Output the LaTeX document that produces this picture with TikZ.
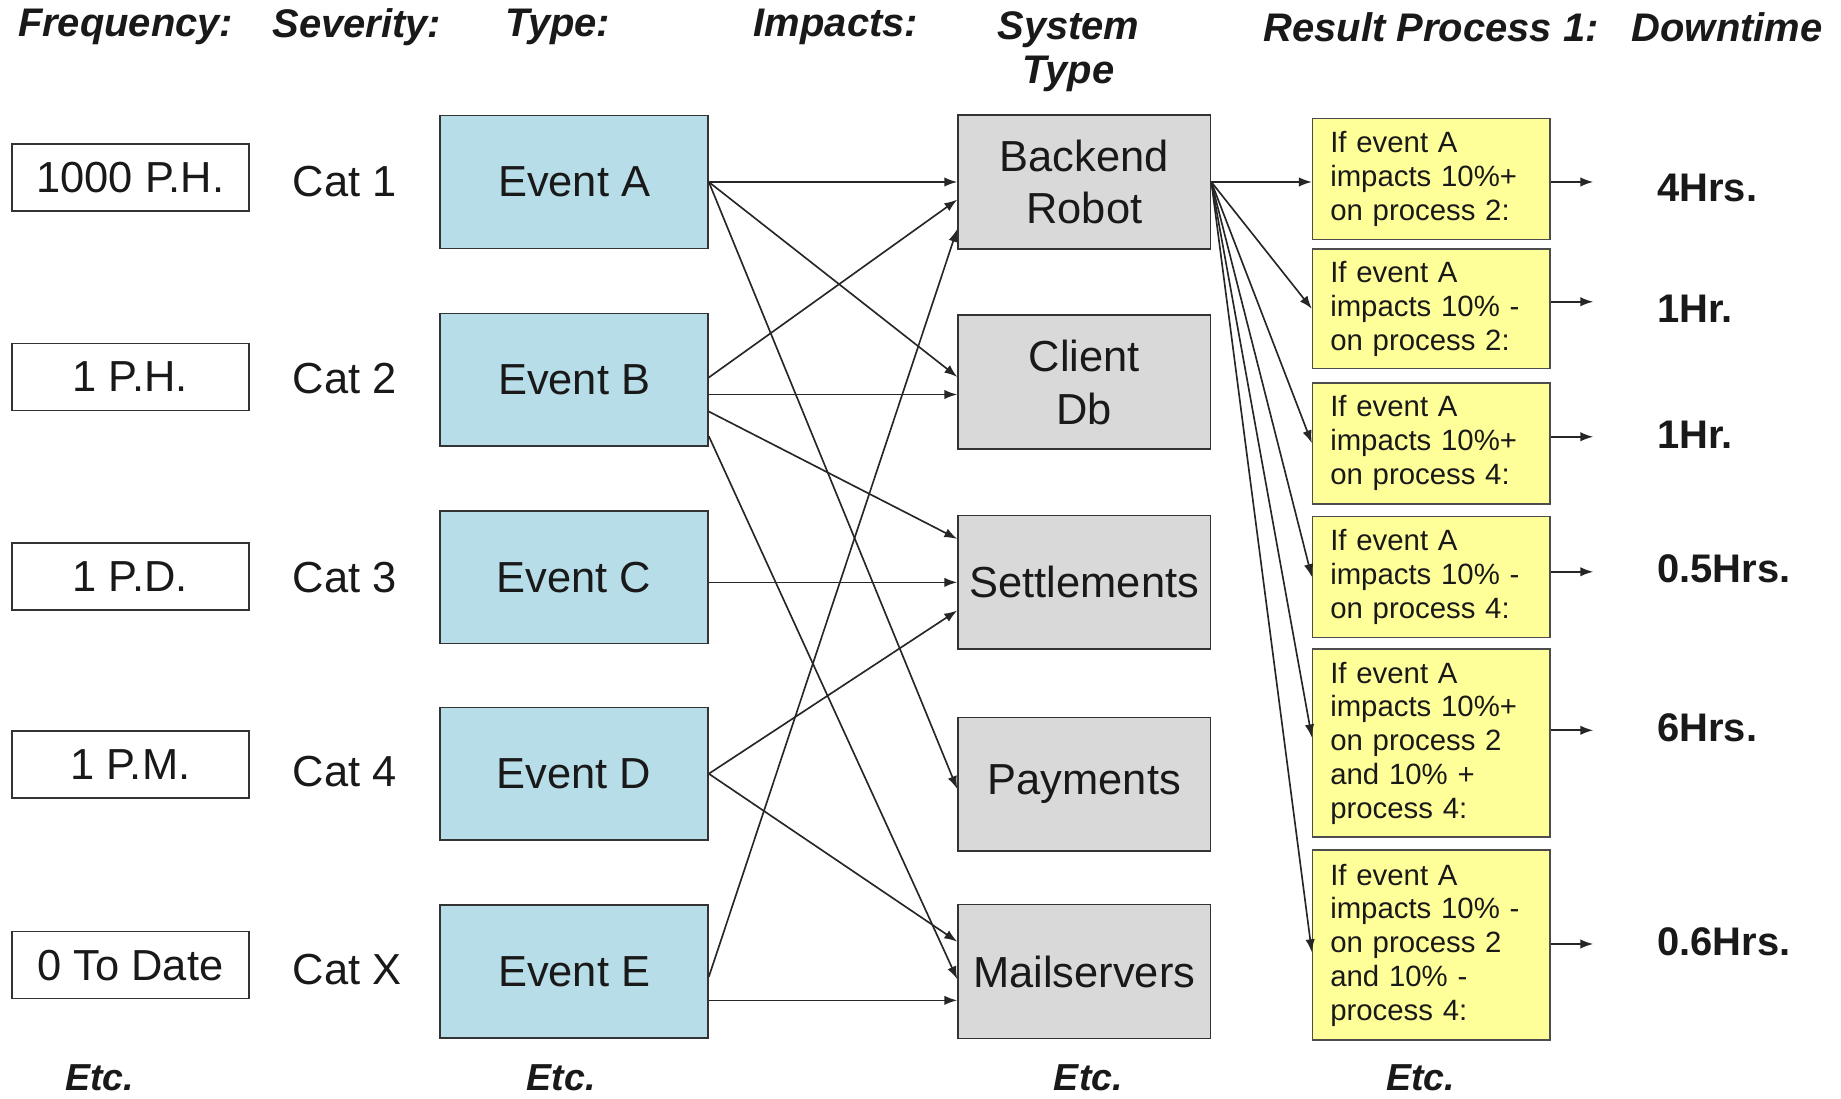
\documentclass[tikz,border=0pt]{standalone}
\usepackage{fontspec}
\setmainfont{Liberation Sans}
\usetikzlibrary{arrows.meta,calc}
\definecolor{evfill}{HTML}{B7DDE8}
\definecolor{sysfill}{HTML}{D9D9D9}
\definecolor{yfill}{HTML}{FFFF99}
\begin{document}
\begin{tikzpicture}[x=1pt,y=-1pt,
  every node/.style={text=black!90},
  box/.style={draw=black!80, line width=1.4pt},
  freqbox/.style={box, fill=white, minimum width=202pt, minimum height=57pt, inner sep=0pt, font=\fontsize{37}{40}\selectfont},
  evbox/.style={box, fill=evfill, minimum width=228pt, minimum height=113pt, inner sep=0pt, font=\fontsize{37}{44}\selectfont},
  sysbox/.style={box, fill=sysfill, minimum width=215pt, minimum height=114pt, align=center, inner sep=0pt, font=\fontsize{37}{45}\selectfont},
  ybox/.style={box, draw=black!70, fill=yfill, text width=172pt, inner xsep=15pt, inner ysep=0pt, align=left, font=\fontsize{25}{28.8}\selectfont},
  hdr/.style={font=\fontsize{34}{38}\selectfont\bfseries\itshape, align=center},
  etc/.style={font=\fontsize{32}{36}\selectfont\bfseries\itshape, anchor=base, inner sep=0pt},
  dtime/.style={anchor=west, font=\fontsize{34}{38}\selectfont\bfseries},
  cat/.style={anchor=west, font=\fontsize{37}{40}\selectfont},
  arr/.style={-{Latex[length=11pt,width=8pt]}, line width=1.4pt, draw=black!85}]
\useasboundingbox[fill=white] (0,0) rectangle (1568,936);

% headers
\node[hdr] (hFreq) at (107,23) {Frequency:};
\node[hdr] (hSev) at (304,23) {Severity:};
\node[hdr] (hType) at (475,23) {Type:};
\node[hdr] (hImp) at (712,23) {Impacts:};
\node[hdr] (hSys) at (910,44) {System\\Type};
\node[hdr] (hRes) at (1219,23) {Result Process 1:};
\node[hdr] (hDown) at (1471,23) {Downtime};

% footers
\node[etc] (etc1) at (85,929) {Etc.};
\node[etc] (etc2) at (478,929) {Etc.};
\node[etc] (etc3) at (927,929) {Etc.};
\node[etc] (etc4) at (1210,929) {Etc.};

% frequency
\node[freqbox] (f1) at (111,151) {1000 P.H.};
\node[freqbox] (f2) at (111,321) {1 P.H.};
\node[freqbox] (f3) at (111,491) {1 P.D.};
\node[freqbox] (f4) at (111,651) {1 P.M.};
\node[freqbox] (f5) at (111,822) {0 To Date};

% severity
\node[cat] (c1) at (246,155) {Cat 1};
\node[cat] (c2) at (246,322) {Cat 2};
\node[cat] (c3) at (246,492) {Cat 3};
\node[cat] (c4) at (246,657) {Cat 4};
\node[cat] (c5) at (246,826) {Cat X};

% events
\node[evbox] (evA) at (489,155) {Event A};
\node[evbox] (evB) at (489,323.5) {Event B};
\node[evbox] (evC) at (489,491.5) {Event C};
\node[evbox] (evD) at (489,659) {Event D};
\node[evbox] (evE) at (489,827.5) {Event E};

% systems
\node[sysbox] (sysBR) at (923.5,155) {Backend\\Robot};
\node[sysbox] (sysCD) at (923.5,325.5) {Client\\Db};
\node[sysbox] (sysSet) at (923.5,496) {Settlements};
\node[sysbox] (sysPay) at (923.5,668) {Payments};
\node[sysbox] (sysMail) at (923.5,827.5) {Mailservers};

% yellow result boxes
\node[ybox, minimum height=103pt] (y1) at (1219,152.5) {If event A\\impacts 10\%+\\on process 2:};
\node[ybox, minimum height=102pt] (y2) at (1219,263) {If event A\\impacts 10\% -\\on process 2:};
\node[ybox, minimum height=103pt] (y3) at (1219,377.5) {If event A\\impacts 10\%+\\on process 4:};
\node[ybox, minimum height=103pt] (y4) at (1219,491.5) {If event A\\impacts 10\% -\\on process 4:};
\node[ybox, minimum height=160pt] (y5) at (1219,633) {If event A\\impacts 10\%+\\on process 2\\and 10\% +\\process 4:};
\node[ybox, minimum height=162pt] (y6) at (1219,805) {If event A\\impacts 10\% -\\on process 2\\and 10\% -\\process 4:};

% downtime values
\node[dtime] (dt1) at (1408,160) {4Hrs.};
\node[dtime] (dt2) at (1408,263) {1Hr.};
\node[dtime] (dt3) at (1408,370) {1Hr.};
\node[dtime] (dt4) at (1408,484) {0.5Hrs.};
\node[dtime] (dt5) at (1408,620) {6Hrs.};
\node[dtime] (dt6) at (1408,802) {0.6Hrs.};

\coordinate (t1) at (1357,155);
\coordinate (t2) at (1357,257);
\coordinate (t3) at (1357,372);
\coordinate (t4) at (1357,487);
\coordinate (t5) at (1357,622);
\coordinate (t6) at (1357,804);

% event -> system connectors
\draw[arr] (evA.east) -- (sysBR.west);
\draw[arr] (evA.east) -- ([yshift=4.5pt]sysCD.west);
\draw[arr] (evA.east) -- ([yshift=-4pt]sysPay.west);
\draw[arr] ([yshift=2pt]evB.east) -- ([yshift=-15pt]sysBR.west);
\draw[arr] ([yshift=-12.5pt]evB.east) -- ([yshift=-10.5pt]sysCD.west);
\draw[arr] ([yshift=-27pt]evB.east) -- ([yshift=37pt]sysSet.west);
\draw[arr] ([yshift=-48pt]evB.east) -- ([yshift=-6.5pt]sysMail.west);
\draw[arr] ([yshift=-4.5pt]evC.east) -- (sysSet.west);
\draw[arr] (evD.east) -- ([yshift=-24pt]sysSet.west);
\draw[arr] (evD.east) -- ([yshift=25.5pt]sysMail.west);
\draw[arr] ([yshift=-4.5pt]evE.east) -- ([yshift=-40pt]sysBR.west);
\draw[arr] ([yshift=-24.5pt]evE.east) -- ([yshift=-24.5pt]sysMail.west);

% backend robot -> results
\draw[arr] (sysBR.east) -- (y1.west |- sysBR.east);
\draw[arr] (sysBR.east) -- (y2.west);
\draw[arr] (sysBR.east) -- (y3.west);
\draw[arr] (sysBR.east) -- (y4.west);
\draw[arr] (sysBR.east) -- ([yshift=5pt]y5.west);
\draw[arr] (sysBR.east) -- ([yshift=-6pt]y6.west);

% results -> downtime
\draw[arr] (y1.east |- t1) -- (t1);
\draw[arr] (y2.east |- t2) -- (t2);
\draw[arr] (y3.east |- t3) -- (t3);
\draw[arr] (y4.east |- t4) -- (t4);
\draw[arr] (y5.east |- t5) -- (t5);
\draw[arr] (y6.east |- t6) -- (t6);
\end{tikzpicture}
\end{document}
